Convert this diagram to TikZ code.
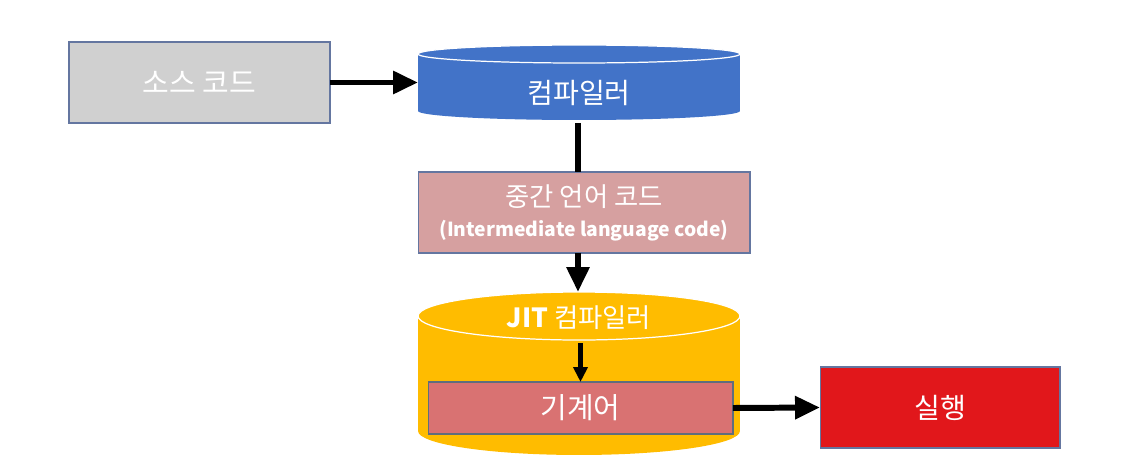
\documentclass[tikz,border=0pt]{standalone}
\usepackage{fontspec}
\setmainfont{Noto Sans CJK KR}
\usepackage{tikz}
\usetikzlibrary{positioning,arrows.meta,calc}
\definecolor{sourcegray}{RGB}{208,208,208}
\definecolor{edgeblue}{RGB}{100,118,160}
\definecolor{compblue}{RGB}{66,115,200}
\definecolor{ilpink}{RGB}{214,160,160}
\definecolor{jitamber}{RGB}{255,188,0}
\definecolor{machinerose}{RGB}{217,114,114}
\definecolor{machineedge}{RGB}{95,110,125}
\definecolor{runred}{RGB}{225,23,27}
\tikzset{
  flat-box/.style={draw=edgeblue, line width=0.6pt, outer sep=0pt, inner sep=0pt,
    align=center, text=white},
  drum-node/.style={minimum width=6.44cm, outer sep=0pt, inner sep=0pt},
  drum-label/.style={text=white, inner sep=1pt},
  heavy-arrow/.style={-{Triangle[length=0.5cm,width=0.44cm]}, line width=3.4pt},
  heavy-link/.style={line width=3.4pt},
  small-arrow/.style={-{Triangle[length=0.3cm,width=0.28cm]}, line width=2.3pt}
}
% drum outline over a named node: #1 node, #2 end radius, #3 fill
\newcommand{\drawdrum}[3]{%
  \fill[#3] ($(#1.north west)+(0,-#2)$) -- ($(#1.south west)+(0,#2)$)
    arc[start angle=180, end angle=360, x radius=3.22cm, y radius=#2]
    -- ($(#1.north east)+(0,-#2)$)
    arc[start angle=0, end angle=180, x radius=3.22cm, y radius=#2] -- cycle;
  \draw[white, line width=0.7pt] ($(#1.north)+(0,-#2)$) ellipse[x radius=3.22cm, y radius=#2];
}
\begin{document}
\begin{tikzpicture}[x=0.02cm, y=-0.02cm]
\useasboundingbox (0,0) rectangle (1130,473);
% source and the first compiler
\node[flat-box, fill=sourcegray, minimum width=5.22cm, minimum height=1.62cm,
  font=\fontsize{16.5}{20}\selectfont] (src) at (199.5,82.5) {소스 코드};
\node[drum-node, minimum height=1.5cm] (comp) at (579,82.5) {};
\drawdrum{comp}{0.18cm}{compblue}
\node[drum-label, font=\fontsize{16}{20}\selectfont] (complbl) at (579,93) {컴파일러};
% intermediate language
\node[flat-box, fill=ilpink, minimum width=6.64cm, minimum height=1.62cm,
  font=\fontsize{15}{19}\selectfont] (il) at (584,212.5)
  {중간 언어 코드\\[-2pt]{\fontsize{11}{14}\selectfont\bfseries (Intermediate language code)}};
% JIT compiler holding the machine code
\node[drum-node, minimum height=3.26cm] (jit) at (579,373.5) {};
\drawdrum{jit}{0.48cm}{jitamber}
\node[drum-label, font=\fontsize{15}{19}\selectfont] (jitlbl) at (579,318) {{\bfseries JIT} 컴파일러};
\node[flat-box, draw=machineedge, fill=machinerose, minimum width=6.1cm, minimum height=1.04cm,
  font=\fontsize{16.5}{20}\selectfont] (mc) at (580.5,408) {기계어};
\coordinate (jitrim) at (580.5,343);
% execution
\node[flat-box, fill=runred, minimum width=4.8cm, minimum height=1.62cm,
  font=\fontsize{16}{20}\selectfont] (run) at (940,407.5) {실행};
% connectors
\draw[heavy-arrow] (src.east) -- (src.east -| comp.west);
\draw[heavy-link] ($(comp.south)+(-1,3)$) -- ($(il.north)+(-6,0)$);
\draw[heavy-arrow] ($(il.south)+(-6,0)$) -- ($(jit.north)+(-1,0)$);
\draw[small-arrow] (jitrim) -- (mc.north);
\draw[heavy-arrow] (mc.east) -- (run.west);
\end{tikzpicture}
\end{document}
